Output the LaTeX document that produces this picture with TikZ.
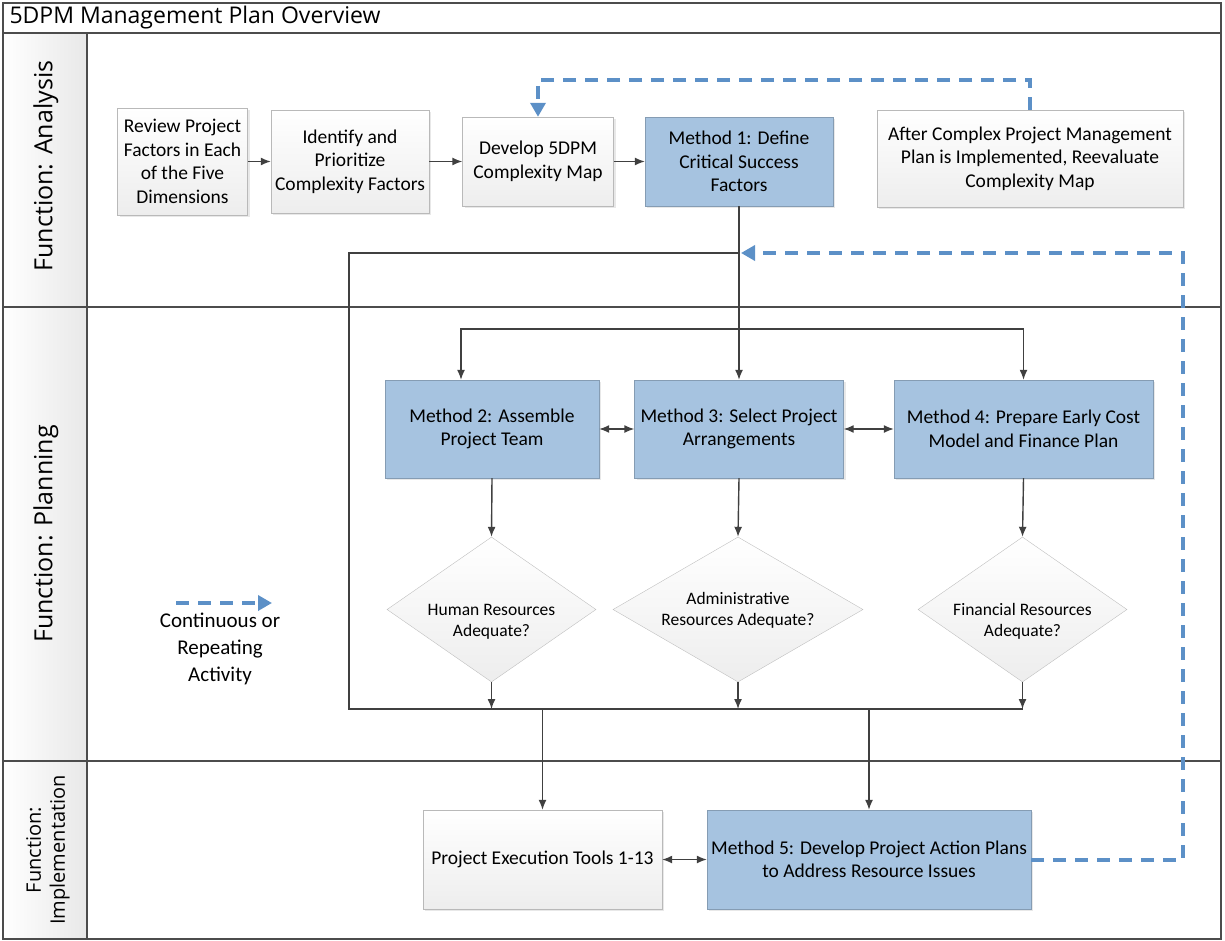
\documentclass[tikz,border=0pt]{standalone}
\usepackage{fontspec}
\setmainfont{Carlito}
\newfontfamily\headfont{Open Sans}
\usetikzlibrary{arrows.meta,positioning,calc,shapes.geometric,shadows}
\definecolor{mblue}{RGB}{166,195,224}
\definecolor{rblue}{RGB}{92,144,199}
\definecolor{ink}{RGB}{64,64,64}
\tikzset{
  box/.style={draw, align=center, inner sep=3pt, font=\fontsize{19.5}{23.5}\selectfont,
    drop shadow={opacity=.18, shadow xshift=2pt, shadow yshift=-2pt}},
  mth/.style={box, fill=mblue, draw=mblue!80!black},
  act/.style={box, draw=gray!55, top color=white, bottom color=gray!14},
  dec/.style={diamond, draw=gray!50, top color=white, bottom color=gray!14, inner sep=0pt},
  dtx/.style={align=center, inner sep=0pt, font=\fontsize{17.5}{21}\selectfont},
  ln/.style={draw=ink, line width=1.4pt},
  fl/.style={ln, -{Latex[length=10pt,width=8pt]}},
  fl2/.style={ln, {Latex[length=10pt,width=8pt]}-{Latex[length=10pt,width=8pt]}},
  rep/.style={draw=rblue, line width=4pt, dash pattern=on 13pt off 9pt, -{Triangle[length=14pt,width=15pt]}},
  lane/.style={draw=gray!60!black, line width=1.2pt},
  lbl/.style={font=\headfont\fontsize{25}{30}\selectfont, rotate=90, align=center},
}

\begin{document}
\begin{tikzpicture}[x=1pt, y=-1pt]
\useasboundingbox (0,0) rectangle (1225,941);
% swimlanes
\shade[left color=white, right color=gray!18] (3,33) rectangle (87,939);
\draw[lane] (3,3) rectangle (1221,939);
\draw[lane] (3,33) -- (1221,33);
\draw[lane] (3,307) -- (1221,307);
\draw[lane] (3,761) -- (1221,761);
\draw[lane] (87,33) -- (87,939);
\node[anchor=west, font=\headfont\fontsize{23}{28}\selectfont] (ttl) at (6,18) {5DPM Management Plan Overview};
\node[lbl] (lnA) at (46,166) {Function: Analysis};
\node[lbl] (lnP) at (46,534) {Function: Planning};
\node[lbl, font=\headfont\fontsize{20}{24}\selectfont] (lnI) at (48,850) {Function:\\Implementation};

% analysis
\node[act, minimum width=130, minimum height=107] (rev) at (182.5,161.5) {Review Project\\Factors in Each\\of the Five\\Dimensions};
\node[act, minimum width=158, minimum height=103] (idf) at (350,161.5) {Identify and\\Prioritize\\Complexity Factors};
\node[act, minimum width=151, minimum height=89] (dev) at (538,161.5) {Develop 5DPM\\Complexity Map};
\node[mth, minimum width=188, minimum height=89] (m1) at (739,161.5) {Method 1: Define\\Critical Success\\Factors};
\node[act, minimum width=306, minimum height=97] (aft) at (1030,158.5) {After Complex Project Management\\Plan is Implemented, Reevaluate\\Complexity Map};

% planning
\node[mth, minimum width=214, minimum height=98] (m2) at (492,429) {Method 2: Assemble\\Project Team};
\node[mth, minimum width=209, minimum height=98] (m3) at (739,429) {Method 3: Select Project\\Arrangements};
\node[mth, minimum width=259, minimum height=98] (m4) at (1023.5,429) {Method 4: Prepare Early Cost\\Model and Finance Plan};
\node[dec, minimum width=209, minimum height=145] (hr) at (491.5,609.5) {};
\node[dec, minimum width=250, minimum height=145] (ar) at (738,609.5) {};
\node[dec, minimum width=209, minimum height=145] (fr) at (1022.5,609.5) {};
\node[dtx, yshift=-12pt] (hrq) at (hr) {Human Resources\\Adequate?};
\node[dtx, yshift=-1pt] (arq) at (ar) {Administrative\\Resources Adequate?};
\node[dtx, yshift=-12pt] (frq) at (fr) {Financial Resources\\Adequate?};

% implementation
\node[act, minimum width=239, minimum height=99] (pet) at (542.5,859.5) {Project Execution Tools 1-13};
\node[mth, minimum width=324, minimum height=99] (m5) at (869,859.5) {Method 5: Develop Project Action Plans\\to Address Resource Issues};

% legend
\coordinate (lg1) at (176,603);
\coordinate (lg2) at (272,603);
\node[font=\fontsize{21}{27}\selectfont, align=center] (lgt) at (220,649) {Continuous or\\Repeating\\Activity};

% flow
\coordinate (lt) at (349,253);
\coordinate (lb) at (349,709);
\coordinate (sp) at (739,329);
\draw[fl] (rev) -- (idf);
\draw[fl] (idf) -- (dev);
\draw[fl] (dev) -- (m1);
\draw[fl] (m1.south) -- (m3.north);
\draw[fl] (sp) -| ([xshift=-31pt]m2.north);
\draw[fl] (sp) -| (m4.north);
\draw[fl2] (m2) -- (m3);
\draw[fl2] (m3) -- (m4);
\draw[fl] (m2.south) -- (hr.north);
\draw[fl] (m3.south) -- (ar.north);
\draw[fl] (m4.south) -- (fr.north);
% resource check loop
\draw[ln] (m1.south |- lt) -- (lt) -- (lb) -- (fr.south |- lb);
\draw[fl] (hr.south) -- (hr.south |- lb);
\draw[fl] (ar.south) -- (ar.south |- lb);
\draw[fl] (fr.south) -- (fr.south |- lb);
\draw[fl] (pet.north |- lb) -- (pet.north);
\draw[fl] (m5.north |- lb) -- (m5.north);
\draw[fl2] (pet) -- (m5);
% repeating activity
\draw[rep] (aft.north) -- ++(0,-30) -| (dev.north);
\draw[rep] (m5.east) -- ++(152,0) |- ([xshift=2pt]m1.south |- lt);
\draw[rep] (lg1) -- (lg2);
\end{tikzpicture}
\end{document}
